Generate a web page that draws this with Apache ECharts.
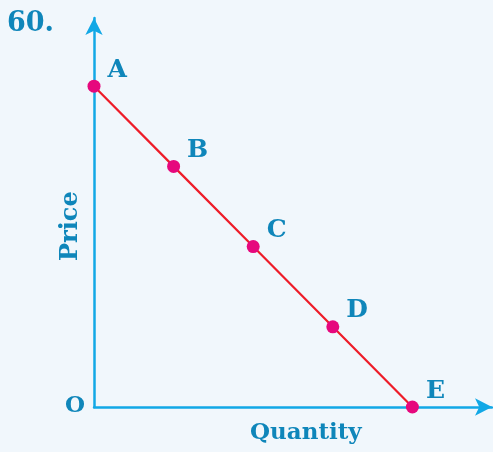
<!DOCTYPE html>
<html>
<head>
<meta charset="utf-8">
<script src="https://cdn.jsdelivr.net/npm/echarts@6/dist/echarts.min.js"></script>
<style>
  html, body { margin: 0; padding: 0; background: #f1f7fc; }
  #view { width: 493px; height: 452px; }
</style>
</head>
<body>
<div id="view"></div>
<script>
var pointNames = ['A', 'B', 'C', 'D', 'E'];
var quantity = [0, 1, 2, 3, 4];
var price = [4, 3, 2, 1, 0];

var blue = '#12a8e6';
var textBlue = '#0f86ba';
var font = '"DejaVu Serif", serif';

var chart = echarts.init(document.getElementById('view'));
var data = pointNames.map(function(n, i) {
    return { name: n, value: [quantity[i], price[i]] };
});

var axisBase = {
    type: 'value', min: 0,
    axisLine: { show: true, onZero: false, symbol: ['none', 'arrow'], symbolSize: [13, 17],
        lineStyle: { color: blue, width: 2.5 } },
    axisTick: { show: false }, axisLabel: { show: false }, splitLine: { show: false }
};

chart.setOption({
    backgroundColor: '#f1f7fc',
    animation: false,
    grid: { left: 94, right: 1, top: 18, bottom: 45 },
    xAxis: Object.assign({}, axisBase, { max: 5 }),
    yAxis: Object.assign({}, axisBase, { max: 4.85 }),
    series: [{
        type: 'line',
        data: data,
        symbol: 'circle',
        symbolSize: 13,
        lineStyle: { color: '#ee1c28', width: 2.2 },
        itemStyle: { color: '#e6087d' },
        label: {
            show: true, formatter: '{b}', position: 'right', offset: [2, -16],
            color: textBlue, fontFamily: font, fontWeight: 'bold', fontSize: 25
        },
        z: 3
    }],
    graphic: [
        { type: 'text', left: 7, top: 10,
          style: { text: '60.', fill: textBlue, font: 'bold 27px ' + font } },
        { type: 'text', left: 65, top: 395,
          style: { text: 'O', fill: textBlue, font: 'bold 23px ' + font } },
        { type: 'text', left: 250, top: 422,
          style: { text: 'Quantity', fill: textBlue, font: 'bold 23px ' + font } },
        { type: 'text', x: 59, y: 261, rotation: Math.PI / 2,
          style: { text: 'Price', fill: textBlue, font: 'bold 24px ' + font } }
    ]
});
</script>
</body>
</html>
